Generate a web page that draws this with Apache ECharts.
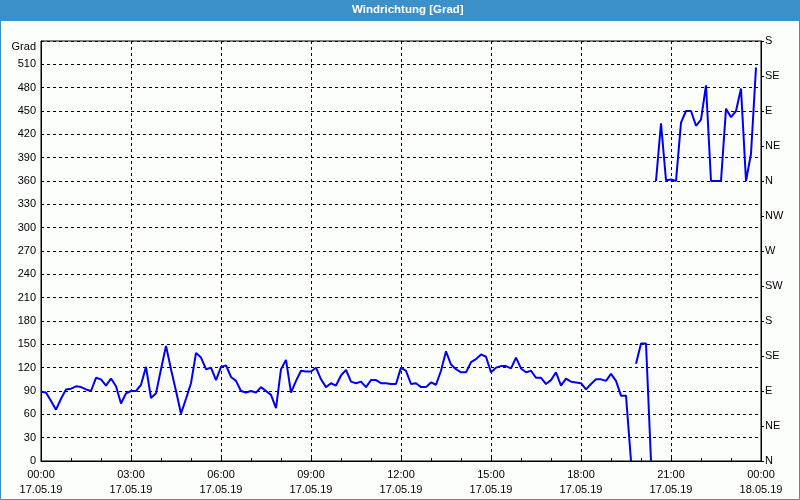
<!DOCTYPE html>
<html><head><meta charset="utf-8">
<script src="https://cdn.jsdelivr.net/npm/echarts@6/dist/echarts.min.js"></script>
<style>html,body{margin:0;padding:0;background:#fcfefc}#c{width:800px;height:500px}</style>
</head><body><div id="c"></div>
<script>
// sampling step of the series (minutes)
const stepMinutes = 10;

// x-axis tick labels (every 3 hours)
const timeLabels = ['00:00','03:00','06:00','09:00','12:00','15:00','18:00','21:00','00:00'];
const dateLabels = ['17.05.19','17.05.19','17.05.19','17.05.19','17.05.19','17.05.19','17.05.19','17.05.19','18.05.19'];

// right axis compass labels (every 45 degrees, 0..540)
const compassLabels = ['N','NE','E','SE','S','SW','W','NW','N','NE','E','SE','S'];

// wind direction [Grad], 10-minute values, split where the trace wraps
const segment1Start = 0;   // 00:00
const segment1 = [89,88,77,66,80,92,93,96,95,92,90,107,105,97,106,96,74,87,90,90,
  98,121,81,87,118,148,118,90,61,80,100,139,133,118,120,104,121,123,108,103,
  90,88,90,88,95,90,85,68,118,130,88,103,116,115,115,120,105,95,100,97,
  110,117,102,100,102,95,104,104,100,100,99,99,120,116,99,100,95,95,101,98,
  116,141,124,118,114,114,127,131,137,134,114,120,122,122,119,133,119,114,116,107,
  107,99,104,114,97,106,102,101,100,92,99,105,105,103,112,103,84,84,0];
const segment2Start = 119; // 19:50
const segment2 = [125,151,151,0];
const segment3Start = 123; // 20:30
const segment3 = [360,434,361,362,360,435,450,450,431,439,483,360,360,360,453,442,450,479,360,395,506];

const toPoints = (start, arr) => arr.map((v, k) => [(start + k) * stepMinutes, v]);

const FONT = 'Liberation Sans';
const lineSeries = (start, arr) => ({
  type: 'line', data: toPoints(start, arr), showSymbol: false, symbol: 'none',
  lineStyle: { color: '#0000f0', width: 2 }, clip: true, animation: false, z: 5
});

const chart = echarts.init(document.getElementById('c'), null, { renderer: 'canvas' });
chart.setOption({
  backgroundColor: '#fcfefc',
  animation: false,
  title: {
    text: 'Windrichtung [Grad]', left: 352, top: 4, padding: 0,
    textStyle: { color: '#ffffff', fontWeight: 'bold', fontSize: 11.5, fontFamily: FONT }
  },
  graphic: [
    { type: 'rect', z: -1, shape: { x: 0, y: 0, width: 800, height: 21 }, style: { fill: '#3c90c8' } },
    { type: 'rect', z: -1, shape: { x: 0.5, y: 0.5, width: 799, height: 499 }, style: { fill: 'none', stroke: '#3c90c8', lineWidth: 1 } }
  ],
  grid: { left: 41, right: 39, top: 41, bottom: 39, show: true, borderColor: '#000', borderWidth: 1, backgroundColor: 'transparent' },
  xAxis: {
    type: 'value', min: 0, max: 1440, interval: 180,
    axisLine: { show: true, lineStyle: { color: '#000', width: 1 } },
    axisTick: { show: true, inside: true, length: 3, lineStyle: { color: '#000' } },
    minorTick: { show: true, splitNumber: 3, length: 3, lineStyle: { color: '#000' } },
    splitLine: { show: true, lineStyle: { color: '#000', type: [3, 3], width: 1 } },
    axisLabel: {
      margin: 6, lineHeight: 15, color: '#000', fontSize: 11, fontFamily: FONT,
      formatter: v => timeLabels[Math.round(v / 180)] + '\n' + dateLabels[Math.round(v / 180)]
    }
  },
  yAxis: [
    {
      type: 'value', min: 0, max: 540, interval: 30,
      name: 'Grad', nameLocation: 'end', nameGap: -6,
      nameTextStyle: { color: '#000', fontSize: 11, fontFamily: FONT, align: 'right', verticalAlign: 'middle', padding: [0, 5, 0, 0] },
      axisLine: { show: true, lineStyle: { color: '#000' } },
      axisTick: { show: false },
      splitLine: { show: true, lineStyle: { color: '#000', type: [3, 3], width: 1 } },
      axisLabel: { showMaxLabel: false, margin: 5, color: '#000', fontSize: 11, fontFamily: FONT }
    },
    {
      type: 'value', position: 'right', min: 0, max: 540, interval: 45,
      axisLine: { show: true, lineStyle: { color: '#000' } },
      axisTick: { show: true, length: 3, lineStyle: { color: '#000' } },
      splitLine: { show: false },
      axisLabel: { margin: 4, color: '#000', fontSize: 11, fontFamily: FONT, formatter: v => compassLabels[Math.round(v / 45)] }
    }
  ],
  series: [
    lineSeries(segment1Start, segment1),
    lineSeries(segment2Start, segment2),
    lineSeries(segment3Start, segment3)
  ]
});
</script></body></html>
